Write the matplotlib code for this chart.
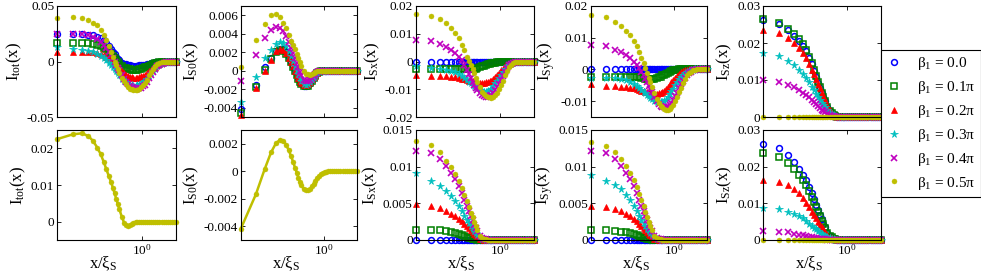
import numpy as np
import matplotlib
matplotlib.use('Agg')
from matplotlib import pyplot as plt
from matplotlib.ticker import NullLocator

# Betűtípus beállítások (Times-szerű)
plt.rcParams['font.family'] = ['Liberation Serif', 'DejaVu Serif']
plt.rcParams['mathtext.fontset'] = 'custom'
plt.rcParams['mathtext.rm'] = 'Liberation Serif'
plt.rcParams['mathtext.it'] = 'Liberation Serif:italic'
plt.rcParams['mathtext.bf'] = 'Liberation Serif:bold'
plt.rcParams['axes.unicode_minus'] = False

# Mintavételi pontok: x/xi_S = n*dx
dx = 0.0225
n_pts = [1, 2, 3, 4, 5, 6, 7, 8, 9, 10, 11, 12, 13, 14, 15, 16,
         18, 20, 22, 24, 26, 28, 30,
         33, 36, 39, 42, 46, 50, 55, 60,
         66, 72, 79, 87, 95, 105, 115, 127,
         140, 155, 170, 185, 200]
x_lim = [0.0225, 4.5]

# Jelmagyarázat
beta_labels = ['0.0', '0.1π', '0.2π', '0.3π', '0.4π', '0.5π']

zero_row = [0, 0, 0, 0, 0, 0, 0, 0, 0, 0, 0,
            0, 0, 0, 0, 0, 0, 0, 0, 0, 0, 0,
            0, 0, 0, 0, 0, 0, 0, 0, 0, 0, 0,
            0, 0, 0, 0, 0, 0, 0, 0, 0, 0, 0]

# Értékek 1e-3 egységben, sorok: beta_1 = 0.0 ... 0.5pi
tot_top = [
    [24.5, 24.5, 24.5, 24, 23.5, 22.5, 21, 19, 16.5, 14, 11.5, 9, 6.5, 4, 2.5, 1, -1, -2, -2.7, -3.2, -3.5, -3.7, -3.8,
     -3.8, -3.65, -3.5, -3.3, -3.05, -2.75, -2.35, -2, -1.6, -1.3, -0.9, -0.6, -0.4, -0.2, 0, 0, 0, 0, 0, 0, 0],
    [16.7, 17, 17, 16.5, 16, 15, 14, 12.5, 11, 9, 7, 5, 3, 1, -0.5, -2, -4, -5.5, -6.2, -6.7, -7.2, -7.4, -7.5,
     -7.5, -7.3, -6.9, -6.5, -5.9, -5.4, -4.7, -4, -3.2, -2.6, -1.8, -1.2, -0.8, -0.4, -0.1, 0, 0, 0, 0, 0, 0],
    [8.3, 9, 9, 8.8, 8.5, 8, 7, 6, 4.5, 3, 1.5, 0, -1.5, -3, -4.5, -6, -8.5, -10.5, -11.8, -12.9, -14, -14.3, -14.6,
     -14.8, -14.6, -14.1, -13.5, -12.7, -11.9, -10.7, -9, -7.5, -6, -4.6, -3, -2.1, -1.2, -0.5, -0.2, 0, 0, 0, 0, 0],
    [12.8, 11, 10, 9.5, 8.5, 7, 5, 3, 1, -1, -3, -5, -7, -9, -10.8, -12.5, -15.5, -17.5, -18.8, -20, -21, -21.5, -21.9,
     -22, -21.6, -21, -20, -18.8, -17.5, -15.8, -13, -10.7, -8.5, -6.5, -4.5, -3.3, -2, -1, -0.5, -0.2, 0, 0, 0, 0],
    [24.7, 24.7, 24.5, 24, 22.5, 20.5, 18, 15, 12, 9, 6, 3, 0, -3, -5.5, -8, -12.5, -16, -18.3, -20.3, -22, -23, -23.8,
     -24.5, -24.5, -24.2, -23.5, -22.3, -21, -18.5, -15, -12, -9.5, -6.7, -4.5, -3.3, -2, -1, -0.5, -0.2, 0, 0, 0, 0],
    [39, 40.5, 39, 37, 35, 32.5, 28, 24, 19, 14, 9, 4, 0, -3.5, -7, -10, -15, -18, -20.7, -23, -24.5, -25.2, -25.6,
     -26, -25.7, -24.5, -23, -21.2, -19.5, -16.5, -12.5, -9.2, -6.5, -3.8, -2, -1.1, -0.4, 0, 0, 0, 0, 0, 0, 0],
]
s0_top = [
    [-4.1, -1.5, 0.36, 1.43, 2.1, 2.4, 2.3, 2.0, 1.5, 1.0, 0.5, 0.07, -0.4, -0.8, -1.1, -1.36, -1.6, -1.6, -1.5, -1.3, -1.0, -0.75, -0.55,
     -0.25, -0.1, -0.03, 0, 0, 0, 0, 0, 0, 0, 0, 0, 0, 0, 0, 0, 0, 0, 0, 0, 0],
    [-4.6, -1.8, 0.07, 1.25, 2.0, 2.2, 2.1, 1.8, 1.36, 0.9, 0.4, -0.07, -0.5, -0.9, -1.2, -1.43, -1.7, -1.7, -1.6, -1.35, -1.07, -0.8, -0.6,
     -0.29, -0.12, -0.04, 0, 0, 0, 0, 0, 0, 0, 0, 0, 0, 0, 0, 0, 0, 0, 0, 0, 0],
    [-4.8, -1.9, -0.07, 1.14, 2.1, 2.3, 2.2, 1.9, 1.43, 0.96, 0.48, 0, -0.42, -0.8, -1.07, -1.3, -1.5, -1.5, -1.4, -1.2, -0.93, -0.7, -0.5,
     -0.21, -0.08, -0.02, 0, 0, 0, 0, 0, 0, 0, 0, 0, 0, 0, 0, 0, 0, 0, 0, 0, 0],
    [-3.4, -0.64, 1.36, 2.2, 2.9, 3.1, 3.0, 2.7, 2.1, 1.6, 1.05, 0.5, 0.05, -0.36, -0.75, -1.07, -1.4, -1.5, -1.45, -1.25, -1.0, -0.75, -0.55,
     -0.25, -0.1, -0.03, 0, 0, 0, 0, 0, 0, 0, 0, 0, 0, 0, 0, 0, 0, 0, 0, 0, 0],
    [-1.07, 1.7, 3.5, 4.4, 4.7, 4.6, 4.3, 3.75, 3.1, 2.5, 1.95, 1.4, 0.85, 0.36, -0.1, -0.5, -1.0, -1.15, -1.12, -1.0, -0.8, -0.6, -0.4,
     -0.18, -0.07, -0.02, 0, 0, 0, 0, 0, 0, 0, 0, 0, 0, 0, 0, 0, 0, 0, 0, 0, 0],
    [0.36, 3.3, 5.1, 6.0, 6.1, 5.8, 5.2, 4.6, 3.9, 3.2, 2.75, 2.3, 1.85, 1.4, 0.95, 0.5, 0, -0.3, -0.4, -0.42, -0.35, -0.25, -0.15,
     -0.07, -0.02, 0, 0, 0, 0, 0, 0, 0, 0, 0, 0, 0, 0, 0, 0, 0, 0, 0, 0, 0],
]
sx_top = [
    zero_row,
    [-2.8, -2.8, -2.8, -2.8, -2.8, -2.8, -2.8, -2.8, -2.8, -2.8, -2.8, -2.8, -2.75, -2.7, -2.55, -2.4, -2.1, -1.7, -1.45, -1.2, -1.0, -0.8, -0.65,
     -0.5, -0.38, -0.3, -0.2, -0.12, -0.07, 0, 0, 0, 0, 0, 0, 0, 0, 0, 0, 0, 0, 0, 0, 0],
    [-4.8, -5.1, -5.2, -5.3, -5.5, -5.7, -5.9, -6.2, -6.4, -6.7, -6.85, -7, -7.2, -7.4, -7.5, -7.6, -7.8, -7.8, -7.7, -7.55, -7.4, -7.15, -6.9,
     -6.3, -5.7, -5, -4.2, -3.2, -2.6, -1.8, -1.2, -0.75, -0.45, -0.15, 0, 0, 0, 0, 0, 0, 0, 0, 0, 0],
    [-1.8, -2.4, -2.8, -3, -3.4, -3.9, -4.5, -5.2, -5.9, -6.7, -7.3, -7.9, -8.4, -8.8, -9.3, -9.7, -10.3, -10.7, -10.85, -10.85, -10.7, -10.3, -9.9,
     -8.8, -7.9, -7, -6.1, -4.8, -3.8, -2.7, -1.8, -1.2, -0.8, -0.45, -0.1, 0, 0, 0, 0, 0, 0, 0, 0, 0],
    [7.6, 7.3, 6.3, 5.2, 4.2, 3, 1.8, 0.6, -1.2, -3, -4.6, -6.1, -7.4, -8.5, -9.5, -10.3, -11.5, -12.2, -12.5, -12.7, -12.7, -12.4, -12.1,
     -11.3, -10.3, -9.2, -8.1, -6.6, -5.2, -3.7, -2.4, -1.4, -0.9, -0.5, -0.2, 0, 0, 0, 0, 0, 0, 0, 0, 0],
    [17, 16.4, 15.2, 13.7, 12.1, 10.3, 8.5, 6.1, 4, 1.8, 0.3, -1.2, -2.7, -4.2, -5.8, -7.3, -9.3, -10.9, -11.7, -12.3, -12.7, -12.9, -13,
     -12.7, -12.1, -11.2, -10, -8.3, -6.9, -5, -3.3, -2, -1.1, -0.5, -0.1, 0, 0, 0, 0, 0, 0, 0, 0, 0],
]
sy_top = [
    zero_row,
    [-2.4, -2.4, -2.4, -2.4, -2.4, -2.4, -2.4, -2.4, -2.4, -2.6, -2.75, -2.9, -2.95, -3.0, -3.0, -3.0, -2.9, -2.7, -2.5, -2.25, -1.9, -1.65, -1.4,
     -1.1, -0.7, -0.5, -0.3, -0.15, -0.05, 0, 0, 0, 0, 0, 0, 0, 0, 0, 0, 0, 0, 0, 0, 0],
    [-4.7, -5.1, -5.3, -5.4, -5.6, -5.8, -6, -6.2, -6.5, -6.7, -6.85, -7, -7.15, -7.3, -7.4, -7.5, -7.6, -7.6, -7.5, -7.3, -7.1, -6.7, -6.3,
     -5.6, -4.8, -4.1, -3.4, -2.6, -2.0, -1.3, -0.9, -0.5, -0.3, -0.15, 0, 0, 0, 0, 0, 0, 0, 0, 0, 0],
    [-2.6, -2.6, -2.8, -3, -3.4, -3.9, -4.5, -5.2, -5.8, -6.5, -7, -7.5, -8, -8.5, -9, -9.4, -9.9, -10.3, -10.4, -10.4, -10.2, -9.9, -9.5,
     -8.8, -7.8, -6.9, -6.1, -4.9, -4, -3, -2.4, -1.7, -1.2, -0.8, -0.4, -0.3, -0.15, 0, 0, 0, 0, 0, 0, 0],
    [7.8, 7.3, 6.2, 5.4, 4.6, 3.5, 2.5, 1.4, 0.3, -0.75, -1.8, -2.9, -4, -5.1, -6.2, -7.2, -8.8, -10.1, -10.8, -11.4, -11.8, -11.95, -12,
     -11.8, -11.2, -10.5, -9.7, -8.5, -7.4, -5.9, -4.7, -3.5, -2.6, -1.8, -1.1, -0.7, -0.3, -0.1, 0, 0, 0, 0, 0, 0],
    [17.2, 16.5, 15, 13.8, 12.2, 10.8, 8.9, 7.3, 5.4, 3.5, 1.9, 0.3, -1.2, -2.6, -4, -5.4, -7.5, -9.4, -10.5, -11.4, -12, -12.4, -12.65,
     -12.8, -12.4, -11.9, -11.2, -9.9, -8.7, -7.1, -5.8, -4.3, -3.1, -1.9, -1.1, -0.7, -0.3, -0.1, 0, 0, 0, 0, 0, 0],
]
sz_top = [
    [26.3, 25, 23.5, 22, 20.6, 19.2, 17.8, 16, 14.2, 12.4, 10.8, 9.2, 7.8, 6.5, 5.3, 4.2, 2.6, 1.5, 0.9, 0.45, 0.2, 0.1, 0,
     0, 0, 0, 0, 0, 0, 0, 0, 0, 0, 0, 0, 0, 0, 0, 0, 0, 0, 0, 0, 0],
    [26.5, 25.3, 23.9, 22.3, 21, 19.6, 18.2, 16.3, 14.5, 12.6, 11, 9.4, 8, 6.6, 5.4, 4.3, 2.7, 1.6, 0.95, 0.45, 0.2, 0.1, 0,
     0, 0, 0, 0, 0, 0, 0, 0, 0, 0, 0, 0, 0, 0, 0, 0, 0, 0, 0, 0, 0],
    [23.5, 22.8, 21.4, 20, 18.7, 17.3, 15.9, 14.3, 12.8, 11.5, 10.2, 9, 7.8, 6.6, 5.5, 4.5, 3, 1.8, 1.1, 0.6, 0.3, 0.1, 0,
     0, 0, 0, 0, 0, 0, 0, 0, 0, 0, 0, 0, 0, 0, 0, 0, 0, 0, 0, 0, 0],
    [17.3, 16.5, 15.1, 14, 12.8, 11.7, 10.6, 9.4, 8.2, 7.3, 6.3, 5.4, 4.6, 3.9, 3.3, 2.7, 1.8, 1.1, 0.75, 0.45, 0.3, 0.1, 0,
     0, 0, 0, 0, 0, 0, 0, 0, 0, 0, 0, 0, 0, 0, 0, 0, 0, 0, 0, 0, 0],
    [9.9, 9.4, 8.7, 8, 7.3, 6.6, 6, 5.3, 4.6, 4.1, 3.5, 3, 2.5, 2, 1.6, 1.3, 0.8, 0.5, 0.3, 0.15, 0, 0, 0,
     0, 0, 0, 0, 0, 0, 0, 0, 0, 0, 0, 0, 0, 0, 0, 0, 0, 0, 0, 0, 0],
    zero_row,
]
# Alsó sor: I_tot és I_S0 csak beta_1 = 0.5pi
tot_bot = [22.5, 23.8, 24.1, 23.4, 22, 20.2, 18.4, 16.3, 14.3, 12.5, 10.9, 9.3, 7.7, 6.2, 4.8, 3.5, 1.2, -0.4, -0.9, -1.1, -0.8, -0.6, -0.4,
           -0.2, -0.05, 0, 0, 0, 0, 0, 0, 0, 0, 0, 0, 0, 0, 0, 0, 0, 0, 0, 0, 0]
s0_bot = [-4.2, -1.68, 0.17, 1.37, 2.04, 2.28, 2.23, 1.92, 1.51, 1.08, 0.66, 0.24, -0.13, -0.48, -0.78, -1.03, -1.32, -1.39, -1.37, -1.27, -1.08, -0.9, -0.72,
          -0.48, -0.33, -0.2, -0.12, -0.06, -0.03, 0, 0, 0, 0, 0, 0, 0, 0, 0, 0, 0, 0, 0, 0, 0]
sx_bot = [
    zero_row,
    [1.4, 1.4, 1.3, 1.2, 1.1, 0.9, 0.8, 0.65, 0.5, 0.37, 0.3, 0.23, 0.18, 0.14, 0.09, 0.05, 0, 0, 0, 0, 0, 0, 0,
     0, 0, 0, 0, 0, 0, 0, 0, 0, 0, 0, 0, 0, 0, 0, 0, 0, 0, 0, 0, 0],
    [4.9, 4.7, 4.3, 4, 3.6, 3.3, 2.9, 2.6, 2.2, 1.9, 1.6, 1.3, 1.05, 0.8, 0.65, 0.5, 0.2, 0.1, 0.05, 0, 0, 0, 0,
     0, 0, 0, 0, 0, 0, 0, 0, 0, 0, 0, 0, 0, 0, 0, 0, 0, 0, 0, 0, 0],
    [9.1, 8, 7.3, 6.7, 6, 5.3, 4.6, 3.9, 3.3, 2.7, 2.3, 1.9, 1.55, 1.2, 0.95, 0.7, 0.4, 0.2, 0.1, 0.05, 0, 0, 0,
     0, 0, 0, 0, 0, 0, 0, 0, 0, 0, 0, 0, 0, 0, 0, 0, 0, 0, 0, 0, 0],
    [12.2, 11.8, 11, 10.1, 9.2, 8.3, 7.3, 6.4, 5.5, 4.7, 4, 3.3, 2.7, 2.1, 1.6, 1.2, 0.6, 0.3, 0.15, 0.07, 0, 0, 0,
     0, 0, 0, 0, 0, 0, 0, 0, 0, 0, 0, 0, 0, 0, 0, 0, 0, 0, 0, 0, 0],
    [13.5, 12.9, 12, 10.8, 9.9, 9, 8, 7.1, 6.2, 5.3, 4.5, 3.7, 3.1, 2.5, 1.9, 1.3, 0.6, 0.3, 0.15, 0.07, 0, 0, 0,
     0, 0, 0, 0, 0, 0, 0, 0, 0, 0, 0, 0, 0, 0, 0, 0, 0, 0, 0, 0, 0],
]
sy_bot = [
    zero_row,
    [1.3, 1.3, 1.25, 1.15, 1.05, 0.9, 0.78, 0.63, 0.5, 0.37, 0.3, 0.22, 0.17, 0.12, 0.08, 0.05, 0, 0, 0, 0, 0, 0, 0,
     0, 0, 0, 0, 0, 0, 0, 0, 0, 0, 0, 0, 0, 0, 0, 0, 0, 0, 0, 0, 0],
    [4.6, 4.5, 4.2, 3.9, 3.6, 3.3, 2.9, 2.6, 2.2, 1.9, 1.6, 1.3, 1.05, 0.8, 0.65, 0.5, 0.2, 0.1, 0.05, 0, 0, 0, 0,
     0, 0, 0, 0, 0, 0, 0, 0, 0, 0, 0, 0, 0, 0, 0, 0, 0, 0, 0, 0, 0],
    [8.9, 8.1, 7.5, 6.9, 6.2, 5.4, 4.7, 4.0, 3.3, 2.7, 2.3, 1.9, 1.55, 1.2, 0.95, 0.7, 0.4, 0.2, 0.1, 0.05, 0, 0, 0,
     0, 0, 0, 0, 0, 0, 0, 0, 0, 0, 0, 0, 0, 0, 0, 0, 0, 0, 0, 0, 0],
    [12.1, 11.8, 11.0, 10.1, 9.2, 8.3, 7.3, 6.4, 5.5, 4.7, 4, 3.3, 2.7, 2.1, 1.6, 1.2, 0.6, 0.3, 0.15, 0.07, 0, 0, 0,
     0, 0, 0, 0, 0, 0, 0, 0, 0, 0, 0, 0, 0, 0, 0, 0, 0, 0, 0, 0, 0],
    [13.3, 12.8, 12.0, 11.0, 10.1, 9.2, 8.2, 7.2, 6.3, 5.4, 4.6, 3.8, 3.1, 2.5, 1.9, 1.3, 0.6, 0.3, 0.15, 0.07, 0, 0, 0,
     0, 0, 0, 0, 0, 0, 0, 0, 0, 0, 0, 0, 0, 0, 0, 0, 0, 0, 0, 0, 0],
]
sz_bot = [
    [26.2, 25, 23.2, 21.4, 19.5, 17.7, 16.4, 14.5, 12.7, 11.1, 9.6, 8.2, 6.9, 5.6, 4.5, 3.5, 2, 1.1, 0.7, 0.35, 0.2, 0.1, 0,
     0, 0, 0, 0, 0, 0, 0, 0, 0, 0, 0, 0, 0, 0, 0, 0, 0, 0, 0, 0, 0],
    [23.6, 22.7, 21.1, 19.3, 17.7, 16.4, 15, 13.5, 11.8, 10.5, 9.1, 7.7, 6.5, 5.3, 4.3, 3.4, 2, 1.1, 0.7, 0.35, 0.2, 0.1, 0,
     0, 0, 0, 0, 0, 0, 0, 0, 0, 0, 0, 0, 0, 0, 0, 0, 0, 0, 0, 0, 0],
    [16.5, 15.9, 15, 13.8, 12.7, 11.4, 10.2, 8.9, 7.7, 6.8, 5.9, 5, 4.2, 3.5, 2.9, 2.3, 1.4, 0.8, 0.5, 0.3, 0.2, 0.1, 0,
     0, 0, 0, 0, 0, 0, 0, 0, 0, 0, 0, 0, 0, 0, 0, 0, 0, 0, 0, 0, 0],
    [8.6, 8.4, 7.7, 7.1, 6.5, 5.9, 5.3, 4.5, 3.9, 3.4, 2.9, 2.5, 2, 1.6, 1.35, 1.1, 0.7, 0.45, 0.35, 0.25, 0.1, 0.05, 0,
     0, 0, 0, 0, 0, 0, 0, 0, 0, 0, 0, 0, 0, 0, 0, 0, 0, 0, 0, 0, 0],
    [2.5, 2.3, 2.1, 1.7, 1.5, 1.3, 1.1, 0.9, 0.75, 0.6, 0.5, 0.4, 0.35, 0.3, 0.25, 0.2, 0.1, 0, 0, 0, 0, 0, 0,
     0, 0, 0, 0, 0, 0, 0, 0, 0, 0, 0, 0, 0, 0, 0, 0, 0, 0, 0, 0, 0],
    zero_row,
]

# Tengelyhatárok és osztások
ylims_top = [(-0.05, 0.05), (-0.005, 0.007), (-0.02, 0.02), (-0.015, 0.02), (0, 0.03)]
yticks_top = [[-0.05, 0, 0.05], [-0.004, -0.002, 0, 0.002, 0.004, 0.006],
              [-0.02, -0.01, 0, 0.01, 0.02], [-0.01, 0, 0.01, 0.02], [0, 0.01, 0.02, 0.03]]
ylims_bot = [(-0.005, 0.025), (-0.005, 0.003), (0, 0.015), (0, 0.015), (0, 0.03)]
yticks_bot = [[0, 0.01, 0.02], [-0.004, -0.002, 0, 0.002],
              [0, 0.005, 0.01, 0.015], [0, 0.005, 0.01, 0.015], [0, 0.01, 0.02, 0.03]]
ylabels = [r'I$_{\rm tot}$(x)', r'I$_{\rm S0}$(x)', r'I$_{\rm Sx}$(x)',
           r'I$_{\rm Sy}$(x)', r'I$_{\rm Sz}$(x)']

# MATLAB-szerű jelölők
styles = [
    dict(marker='o', mfc='none', mec=(0, 0, 1), ms=4.2, mew=1.1),
    dict(marker='s', mfc='none', mec=(0, 0.5, 0), ms=3.8, mew=1.1),
    dict(marker='^', mfc=(1, 0, 0), mec=(1, 0, 0), ms=4.3, mew=0.5),
    dict(marker='*', mfc=(0, 0.75, 0.75), mec=(0, 0.75, 0.75), ms=5.5, mew=0.5),
    dict(marker='x', mfc=(0.75, 0, 0.75), mec=(0.75, 0, 0.75), ms=4.3, mew=1.2),
    dict(marker='o', mfc=(0.75, 0.75, 0), mec=(0.75, 0.75, 0), ms=3.6, mew=0.3),
]

W, H = 981, 273
fig = plt.figure(figsize=(W / 100, H / 100), dpi=100)

lefts = [57, 240.7, 415.5, 590.7, 763.3]
widths = [119, 116, 118, 116.7, 117.3]
rows = [(6, 111), (130, 110)]

x = dx * np.array(n_pts)


def setup(ax, ylim, yticks, ylabel, bottom):
    ax.set_xscale('log')
    ax.set_xlim(x_lim)
    ax.set_ylim(ylim)
    ax.set_xticks([1])
    ax.xaxis.set_minor_locator(NullLocator())
    if bottom:
        ax.set_xticklabels([r'$10^0$'])
        ax.set_xlabel(r'x/ξ$_{\rm S}$', fontsize=12)
        ax.xaxis.set_label_coords(0.39, -0.13)
    else:
        ax.set_xticklabels([])
    ax.set_yticks(yticks)
    ax.set_yticklabels(['%g' % t for t in yticks])
    ax.set_ylabel(ylabel, fontsize=12, labelpad=2)
    ax.tick_params(direction='in', length=3, width=0.6, top=True, right=True,
                   labelsize=9.5, pad=2)
    for s in ax.spines.values():
        s.set_linewidth(0.8)


top_data = [tot_top, s0_top, sx_top, sy_top, sz_top]
bot_data = [None, None, sx_bot, sy_bot, sz_bot]
handles = []
for r, (top, h) in enumerate(rows):
    for c in range(5):
        ax = fig.add_axes([lefts[c] / W, 1 - (top + h) / H, widths[c] / W, h / H])
        if r == 0:
            setup(ax, ylims_top[c], yticks_top[c], ylabels[c], False)
            for k, vals in enumerate(top_data[c]):
                ln, = ax.plot(x, np.array(vals) * 1e-3, ls='none', clip_on=False,
                              **styles[k])
                if c == 0:
                    handles.append(ln)
        else:
            setup(ax, ylims_bot[c], yticks_bot[c], ylabels[c], True)
            if c == 0 or c == 1:
                vals = tot_bot if c == 0 else s0_bot
                ax.plot(x, np.array(vals) * 1e-3, ls='-', lw=1.8,
                        color=(0.75, 0.75, 0), clip_on=False, **styles[5])
            else:
                for k, vals in enumerate(bot_data[c]):
                    ax.plot(x, np.array(vals) * 1e-3, ls='none', clip_on=False,
                            **styles[k])

labels = ['β$_1$ = ' + b for b in beta_labels]
leg = fig.legend(handles, labels, loc='upper left', bbox_to_anchor=(881 / W, 1 - 50 / H),
                 frameon=True, fancybox=False, edgecolor='black', framealpha=1,
                 fontsize=11, handlelength=1.0, handletextpad=1.0, labelspacing=0.45,
                 borderpad=0.35, borderaxespad=0)
leg.get_frame().set_linewidth(0.8)

fig.savefig('out.png', dpi=100)
